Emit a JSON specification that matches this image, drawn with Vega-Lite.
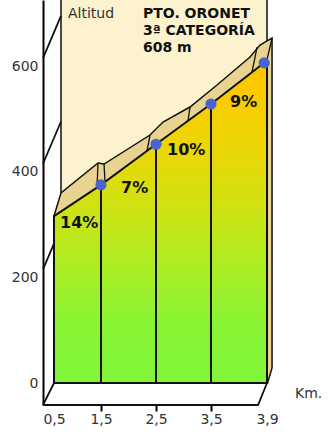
{
  "$schema": "https://vega.github.io/schema/vega-lite/v6.json",
  "width": 229,
  "height": 405,
  "autosize": {"type": "none"},
  "padding": {"left": 43, "top": 0, "right": 57, "bottom": 29},
  "config": {"view": {"stroke": null}, "background": "white"},
  "datasets": {
    "panel": [{"km": 0.649, "km2": 3.9, "alt": 0, "alt2": 745}],
    "walls": [
      {"g": "d200", "i": 0, "km": 0.266, "alt": 215},
      {"g": "d200", "i": 1, "km": 0.649, "alt": 295},
      {"g": "d400", "i": 0, "km": 0.266, "alt": 415},
      {"g": "d400", "i": 1, "km": 0.649, "alt": 495},
      {"g": "d600", "i": 0, "km": 0.266, "alt": 615},
      {"g": "d600", "i": 1, "km": 0.649, "alt": 695},
      {"g": "floor", "i": 0, "km": 0.266, "alt": -41.64},
      {"g": "floor", "i": 1, "km": 3.836, "alt": -41.64},
      {"g": "floor", "i": 2, "km": 3.9, "alt": 0},
      {"g": "floor", "i": 3, "km": 0.5, "alt": 0},
      {"g": "floor", "i": 4, "km": 0.266, "alt": -41.64}
    ],
    "band": [
      {"km": 0.5, "alt": 316, "base": 0},
      {"km": 0.649, "alt": 360, "base": 0},
      {"km": 1.436, "alt": 416.4, "base": 0},
      {"km": 1.555, "alt": 414.5, "base": 0},
      {"km": 2.391, "alt": 469.4, "base": 0},
      {"km": 2.627, "alt": 494, "base": 0},
      {"km": 3.118, "alt": 522.4, "base": 0},
      {"km": 3.543, "alt": 564.1, "base": 0},
      {"km": 3.779, "alt": 617.1, "base": 0},
      {"km": 3.85, "alt": 639.8, "base": 0},
      {"km": 3.904, "alt": 648.1, "base": 0},
      {"km": 3.936, "alt": 652.8, "base": 28.4}
    ],
    "folds": [
      {"g": "f1", "km": 1.415, "alt": 369.1},
      {"g": "f1", "km": 1.436, "alt": 416.4},
      {"g": "f2", "km": 1.573, "alt": 380.5},
      {"g": "f2", "km": 1.555, "alt": 414.5},
      {"g": "f3", "km": 2.336, "alt": 439.1},
      {"g": "f3", "km": 2.391, "alt": 469.4},
      {"g": "f4", "km": 3.082, "alt": 495.9},
      {"g": "f4", "km": 3.118, "alt": 522.4},
      {"g": "f5", "km": 3.793, "alt": 588.7},
      {"g": "f5", "km": 3.829, "alt": 636.0},
      {"g": "f6", "km": 3.9, "alt": 612},
      {"g": "f6", "km": 3.936, "alt": 652.8}
    ],
    "face": [
      {"km": 0.5, "alt": 316},
      {"km": 1.5, "alt": 375},
      {"km": 2.5, "alt": 452},
      {"km": 3.5, "alt": 528},
      {"km": 3.88, "alt": 606},
      {"km": 3.9, "alt": 612}
    ],
    "dividers": [
      {"km": 1.5, "alt": 375},
      {"km": 2.5, "alt": 452},
      {"km": 3.5, "alt": 528}
    ],
    "dots": [
      {"km": 1.5, "alt": 375},
      {"km": 2.5, "alt": 452},
      {"km": 3.5, "alt": 528},
      {"km": 3.88, "alt": 606}
    ],
    "grades": [
      {"km": 0.628, "alt": 302.9, "label": "14%"},
      {"km": 1.864, "alt": 369.1, "label": "7%"},
      {"km": 2.7, "alt": 441.0, "label": "10%"},
      {"km": 3.636, "alt": 531.9, "label": "9%"}
    ],
    "title": [
      {"km": 2.264, "alt": 699.4, "label": "PTO. ORONET"},
      {"km": 2.264, "alt": 665.5, "label": "3ª CATEGORÍA"},
      {"km": 2.264, "alt": 634.3, "label": "608 m"}
    ],
    "notes": [
      {"km": 0.798, "alt": 698.5, "label": "Altitud"},
      {"km": 4.1, "alt": -20.8, "label": "Km."}
    ]
  },
  "encoding": {
    "x": {
      "field": "km",
      "type": "quantitative",
      "scale": {"domain": [0.5, 1.5, 2.5, 3.5, 3.9], "range": [11, 58, 113, 168, 224], "nice": false, "zero": false},
      "axis": {
        "values": [0.5, 1.5, 2.5, 3.5, 3.9],
        "title": null,
        "domain": false,
        "grid": false,
        "tickColor": "black",
        "tickWidth": 2,
        "tickSize": 6,
        "tickOpacity": {"condition": {"test": "datum.value < 1 || datum.value > 3.8", "value": 0}, "value": 1},
        "labelExpr": "replace(format(datum.value, '.1f'), '.', ',')",
        "labelFont": "DejaVu Sans",
        "labelFontSize": 14,
        "labelColor": "#333333",
        "labelPadding": 1,
        "labelFlush": false,
        "labelOverlap": false
      }
    },
    "y": {
      "field": "alt",
      "type": "quantitative",
      "scale": {"domain": [-41.64, 725.0], "nice": false, "zero": false},
      "axis": {
        "values": [0, 200, 400, 600],
        "title": null,
        "grid": false,
        "ticks": false,
        "tickSize": 0,
        "domainColor": "black",
        "domainWidth": 2,
        "labelFont": "DejaVu Sans",
        "labelFontSize": 14,
        "labelColor": "#333333",
        "labelPadding": 5,
        "labelFlush": false,
        "labelOverlap": false
      }
    }
  },
  "layer": [
    {
      "data": {"name": "panel"},
      "mark": {"type": "rect", "fill": "#FCF2CE", "stroke": "#111111", "strokeWidth": 1.5},
      "encoding": {"x2": {"field": "km2"}, "y2": {"field": "alt2"}}
    },
    {
      "data": {"name": "walls"},
      "mark": {"type": "line", "color": "#111111", "strokeWidth": 1.8},
      "encoding": {"detail": {"field": "g"}, "order": {"field": "i"}}
    },
    {
      "data": {"name": "band"},
      "mark": {"type": "area", "fill": "#E9D390", "stroke": "#111111", "strokeWidth": 1.5},
      "encoding": {"y2": {"field": "base"}}
    },
    {
      "data": {"name": "folds"},
      "mark": {"type": "line", "color": "#111111", "strokeWidth": 1.3},
      "encoding": {"detail": {"field": "g"}}
    },
    {
      "data": {"name": "face"},
      "mark": {
        "type": "area",
        "fill": {
          "gradient": "linear", "x1": 0, "y1": 1, "x2": 0, "y2": 0,
          "stops": [
            {"offset": 0, "color": "#80F63A"},
            {"offset": 0.18, "color": "#88F434"},
            {"offset": 0.38, "color": "#B0EC22"},
            {"offset": 0.55, "color": "#D0E212"},
            {"offset": 0.7, "color": "#E8D808"},
            {"offset": 0.85, "color": "#F8CE00"},
            {"offset": 1, "color": "#FFC400"}
          ]
        },
        "stroke": "#111111",
        "strokeWidth": 2
      },
      "encoding": {"y2": {"datum": 0}}
    },
    {
      "data": {"name": "dividers"},
      "mark": {"type": "rule", "color": "#111111", "strokeWidth": 2},
      "encoding": {"y2": {"datum": 0}}
    },
    {
      "data": {"name": "dots"},
      "mark": {"type": "circle", "color": "#4A63CF", "opacity": 1, "size": 125}
    },
    {
      "data": {"name": "grades"},
      "mark": {"type": "text", "align": "left", "baseline": "middle", "font": "DejaVu Sans", "fontWeight": "bold", "fontSize": 16, "color": "#111111"},
      "encoding": {"text": {"field": "label"}}
    },
    {
      "data": {"name": "title"},
      "mark": {"type": "text", "align": "left", "baseline": "middle", "font": "DejaVu Sans", "fontWeight": "bold", "fontSize": 14, "color": "#111111"},
      "encoding": {"text": {"field": "label"}}
    },
    {
      "data": {"name": "notes"},
      "mark": {"type": "text", "align": "left", "baseline": "middle", "font": "DejaVu Sans", "fontSize": 14, "color": "#333333"},
      "encoding": {"text": {"field": "label"}}
    }
  ]
}
